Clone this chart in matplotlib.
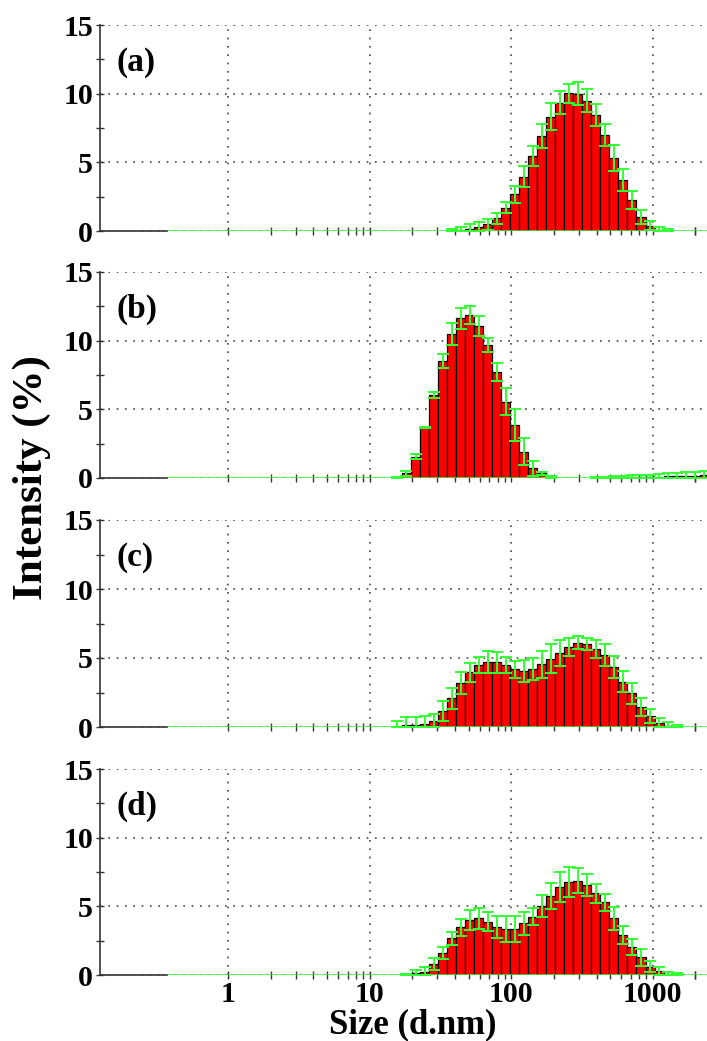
import numpy as np
import matplotlib
matplotlib.use("Agg")
import matplotlib.pyplot as plt
from matplotlib.ticker import FixedLocator, NullFormatter

plt.rcParams['font.family'] = ['Liberation Serif', 'DejaVu Serif']
plt.rcParams['font.weight'] = 'bold'

# Zetasizer size classes (d.nm)
sizes = [0.4, 0.4632, 0.5365, 0.6213, 0.7195, 0.8332, 0.9649, 1.117, 1.294, 1.499,
         1.736, 2.01, 2.328, 2.696, 3.122, 3.615, 4.187, 4.849, 5.615, 6.503,
         7.531, 8.721, 10.1, 11.7, 13.54, 15.69, 18.17, 21.04, 24.36, 28.21,
         32.67, 37.84, 43.82, 50.75, 58.77, 68.06, 78.82, 91.28, 105.7, 122.4,
         141.8, 164.2, 190.1, 220.2, 255.0, 295.3, 342.0, 396.1, 458.7, 531.2,
         615.1, 712.4, 825.0, 955.4, 1106, 1281, 1484, 1718, 1990, 2305,
         2669, 3091, 3580, 4145, 4801, 5560, 6439, 7456, 8635, 10000]

labels = ['(a)', '(b)', '(c)', '(d)']

# first size class with data, intensity (%) and std dev for each sample
a_from = 37.84
a_int = [0.05, 0.1, 0.18, 0.3, 0.5, 0.92, 1.70, 2.67, 3.96, 5.46, 6.92, 8.33, 9.35,
         10.03, 10.0, 9.49, 8.45, 6.99, 5.29, 3.71, 2.26, 1.04, 0.39, 0.1, 0.02]
a_err = [0.1, 0.2, 0.3, 0.35, 0.4, 0.4, 0.4, 0.6, 0.75, 0.75, 0.9, 1.0, 0.85,
         0.7, 0.85, 0.85, 0.8, 0.8, 0.95, 0.8, 0.65, 0.5, 0.35, 0.2, 0.1]

b_from = 15.69
b_int = [0.05, 0.34, 1.55, 3.69, 6.04, 8.54, 10.49, 11.63, 11.87, 11.07, 9.69, 7.74,
         5.56, 3.86, 1.92, 0.70, 0.34, 0.08, 0, 0, 0, 0, 0.01, 0.02, 0.03, 0.04,
         0.05, 0.06, 0.08, 0.1, 0.12, 0.14, 0.16, 0.18, 0.2, 0.22]
b_err = [0.05, 0.2, 0.2, 0.05, 0.25, 0.5, 0.8, 0.75, 0.65, 0.7, 0.5, 0.65,
         1.0, 1.15, 1.0, 0.55, 0.1, 0.05, 0, 0, 0, 0, 0.05, 0.08, 0.1, 0.12,
         0.14, 0.15, 0.17, 0.2, 0.22, 0.24, 0.26, 0.28, 0.3, 0.3]

c_from = 15.69
c_int = [0.05, 0.12, 0.15, 0.2, 0.42, 1.16, 2.08, 3.16, 3.96, 4.5, 4.68, 4.68, 4.49,
         4.18, 4.08, 4.18, 4.54, 4.93, 5.39, 5.77, 6.11, 6.01, 5.65, 5.21, 4.32,
         3.28, 2.44, 1.47, 0.8, 0.27, 0.1, 0.03]
c_err = [0.35, 0.6, 0.6, 0.6, 0.5, 0.7, 0.75, 0.8, 0.7, 0.6, 0.8, 0.75, 0.55,
         0.6, 0.8, 0.8, 1.0, 1.05, 0.95, 0.65, 0.45, 0.45, 0.65, 0.8, 0.8,
         0.75, 0.75, 0.65, 0.5, 0.4, 0.25, 0.15]

d_from = 18.17
d_int = [0.03, 0.12, 0.24, 0.78, 1.58, 2.67, 3.47, 4.0, 4.13, 3.89, 3.52, 3.32,
         3.32, 3.76, 4.25, 5.0, 5.78, 6.39, 6.8, 6.87, 6.55, 5.95, 5.29, 4.13,
         2.92, 2.02, 1.29, 0.6, 0.29, 0.1, 0.03]
d_err = [0.05, 0.25, 0.35, 0.45, 0.45, 0.45, 0.6, 0.7, 0.75, 0.7, 0.8, 0.95,
         0.95, 0.85, 0.6, 0.8, 0.95, 1.1, 1.1, 0.9, 0.8, 0.7, 0.6, 0.85,
         0.65, 0.6, 0.6, 0.4, 0.3, 0.15, 0.1]

samples = [(a_from, a_int, a_err), (b_from, b_int, b_err),
           (c_from, c_int, c_err), (d_from, d_int, d_err)]

sizes = np.array(sizes)
logs = np.log10(sizes)
half = np.diff(logs).mean() / 2
left_edges = 10 ** (logs - half)
right_edges = 10 ** (logs + half)


def full_series(start, vals):
    out = np.zeros(len(sizes))
    i0 = int(np.argmin(np.abs(sizes - start)))
    out[i0:i0 + len(vals)] = vals
    return out


fig = plt.figure(figsize=(7.07, 10.41), dpi=100)
W, H = 707, 1041
# (top, bottom) of each panel in pixels
panel_px = [(25, 231), (272, 478), (520, 727), (769, 975)]
x_lo, x_hi = 0.124, 2415
green = '#33ff33'

minor_x = [m * 10 ** e for e in range(0, 4) for m in range(1, 10)] + [2000]
minor_x = [v for v in minor_x if v <= 2000]

for k, ((top, bot), (start, vals, errs)) in enumerate(zip(panel_px, samples)):
    ax = fig.add_axes([100 / W, 1 - bot / H, 1 - 100 / W, (bot - top) / H])
    y = full_series(start, vals)
    e = full_series(start, errs)

    ax.set_xscale('log')
    ax.set_xlim(x_lo, x_hi)
    ax.set_ylim(0, 15)
    ax.set_axisbelow(True)

    nz = y > 0
    ax.bar(left_edges[nz], y[nz], width=(right_edges - left_edges)[nz], align='edge',
           color='#ff0000', edgecolor='black', linewidth=0.9, zorder=2)

    # green baseline from the first size class
    ax.hlines(0, left_edges[0], x_hi, color=green, linewidth=1.8, zorder=3)

    show = (y > 0) | (e > 0)
    lower = np.minimum(e, y)
    ax.errorbar(sizes[show], y[show], yerr=[lower[show], e[show]], fmt='none',
                ecolor=green, elinewidth=1.4, capsize=4, capthick=1.4, zorder=4)

    for s in ['top', 'right']:
        ax.spines[s].set_visible(False)
    ax.spines['left'].set_linewidth(1.2)
    ax.spines['left'].set_color('#333333')
    ax.spines['bottom'].set_bounds(x_lo, left_edges[0])
    ax.spines['bottom'].set_linewidth(1.2)
    ax.spines['bottom'].set_color('#333333')

    ax.set_yticks([0, 5, 10, 15])
    ax.yaxis.set_minor_locator(FixedLocator([2.5, 7.5, 12.5]))
    ax.xaxis.set_major_locator(FixedLocator([1, 10, 100, 1000]))
    ax.xaxis.set_minor_locator(FixedLocator(minor_x))
    ax.xaxis.set_minor_formatter(NullFormatter())
    if k == 3:
        ax.set_xticklabels(['1', '10', '100', '1000'])
    else:
        ax.set_xticklabels([])

    ax.tick_params(axis='both', which='both', direction='inout', length=6,
                   width=1.0, color='#333333', labelsize=21.5, pad=2)
    ax.tick_params(axis='x', which='both', length=6, pad=1, zorder=5)
    for t in ax.get_xticklabels() + ax.get_yticklabels():
        t.set_fontweight('bold')

    ax.grid(True, which='major', axis='both', color='#444444',
            linestyle=(0, (1, 4)), linewidth=1.2)

    ax.text(0.028, 0.82, labels[k], transform=ax.transAxes, fontsize=24,
            fontweight='bold', ha='left', va='center')

fig.text(32 / W, 1 - 478 / H, 'Intensity (%)', rotation=90, fontsize=31,
         fontweight='bold', ha='center', va='center')
fig.text(413 / W, 1 - 1024.5 / H, 'Size (d.nm)', fontsize=25,
         fontweight='bold', ha='center', va='center')

fig.savefig('out.png', dpi=100)
